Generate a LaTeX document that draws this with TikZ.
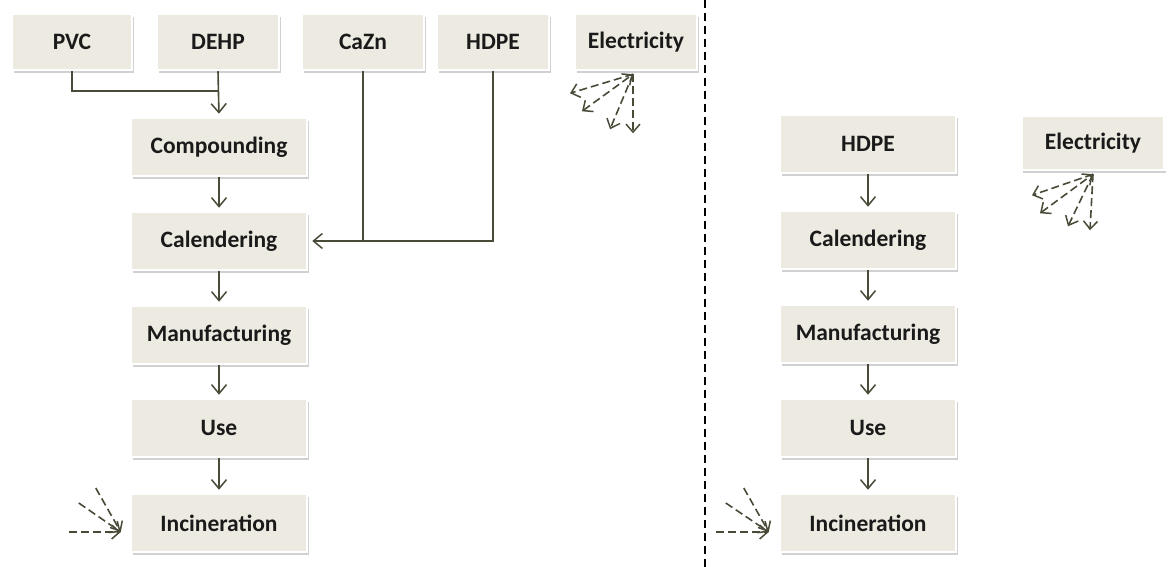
\documentclass[tikz,border=0pt]{standalone}
\usepackage{fontspec}
\setmainfont{Carlito}
\usetikzlibrary{arrows.meta,shadows,calc}
\definecolor{boxfill}{HTML}{ECEAE1}
\definecolor{arrcol}{HTML}{4A4A38}
\definecolor{txtcol}{HTML}{1A1A1A}
\tikzset{
  box/.style={fill=boxfill, draw=white, line width=2.5pt, inner sep=0pt,
    minimum width=176pt, minimum height=58pt, text=txtcol,
    font=\fontsize{23.5pt}{27pt}\selectfont\bfseries,
    drop shadow={shadow xshift=1.5pt, shadow yshift=-3pt, opacity=0.3, fill=black!60}},
  topbox/.style={box, minimum height=56pt},
  conn/.style={draw=arrcol, line width=1.6pt},
  arr/.style={conn, -{Straight Barb[length=9pt,width=15pt,line width=1.5pt]}, shorten >=3pt},
  darr/.style={draw=arrcol, line width=1.6pt, dash pattern=on 8pt off 4pt,
    -{Straight Barb[length=8pt,width=14pt,line width=1.5pt]}},
  dbarr/.style={darr, {Straight Barb[length=8pt,width=14pt,line width=1.5pt]}-{Straight Barb[length=8pt,width=14pt,line width=1.5pt]}},
  divider/.style={draw=black, line width=1.4pt, dash pattern=on 8pt off 5pt}
}
\begin{document}
\begin{tikzpicture}[x=1pt,y=-1pt]
\useasboundingbox (0,0) rectangle (1168,567);
% top row (left)
\node[topbox, minimum width=120pt] (pvc) at (72,42) {PVC};
\node[topbox, minimum width=122pt] (dehp) at (218,42) {DEHP};
\node[topbox, minimum width=122pt] (cazn) at (363,42) {CaZn};
\node[topbox, minimum width=112pt] (hdpe) at (493,42) {HDPE};
\node[topbox, minimum width=122pt] (elec) at (636,42) {Electricity};
% left column
\node[box] (comp) at (219,147) {Compounding};
\node[box] (cal) at (219,241) {Calendering};
\node[box] (man) at (219,335) {Manufacturing};
\node[box] (use) at (219,428) {Use};
\node[box] (inc) at (219,523) {Incineration};
% right column
\node[box] (hdpeR) at (868,144) {HDPE};
\node[box] (calR) at (868,240) {Calendering};
\node[box] (manR) at (868,334) {Manufacturing};
\node[box] (useR) at (868,428) {Use};
\node[box] (incR) at (868,523) {Incineration};
\node[box, minimum width=143pt, minimum height=54pt] (elecR) at (1093,143) {Electricity};
% divider
\coordinate (dtop) at (705,0);
\coordinate (dbot) at (705,567);
\draw[divider] (dtop) -- (dbot);
% left connectors
\coordinate (j1) at (dehp.south |- 0,91);
\draw[conn] (pvc.south) |- (j1);
\draw[arr] (dehp.south) -- (comp.north);
\draw[arr] (comp.south) -- (cal.north);
\draw[arr] (cal.south) -- (man.north);
\draw[arr] (man.south) -- (use.north);
\draw[arr] (use.south) -- (inc.north);
\coordinate (calin) at ([xshift=4pt]cal.east);
\draw[conn] (cazn.south) -- (cazn.south |- cal.east);
\draw[arr, shorten >=0pt] (hdpe.south) |- (calin);
% right connectors
\draw[arr] (hdpeR.south) -- (calR.north);
\draw[arr] (calR.south) -- (manR.north);
\draw[arr] (manR.south) -- (useR.north);
\draw[arr] (useR.south) -- (incR.north);
% electricity dashed arrows (left)
\coordinate (eo) at ([xshift=-3pt,yshift=-3pt]elec.south);
\coordinate (e1) at ($(eo)+(-63,19)$);
\coordinate (e2) at ($(eo)+(-51,37)$);
\coordinate (e3) at ($(eo)+(-23,55)$);
\coordinate (e4) at ($(eo)+(0,59)$);
\draw[darr] (eo) -- (e1);
\draw[dbarr] (e2) -- (eo);
\draw[darr] (eo) -- (e3);
\draw[darr] (eo) -- (e4);
% electricity dashed arrows (right)
\coordinate (fo) at ([yshift=-3pt]elecR.south);
\coordinate (f1) at ($(fo)+(-61,21)$);
\coordinate (f2) at ($(fo)+(-53,39)$);
\coordinate (f3) at ($(fo)+(-25,52)$);
\coordinate (f4) at ($(fo)+(-3,56)$);
\draw[darr] (fo) -- (f1);
\draw[dbarr] (f2) -- (fo);
\draw[darr] (fo) -- (f3);
\draw[darr] (fo) -- (f4);
% incineration dashed arrows (left)
\coordinate (it) at ([xshift=-9pt,yshift=-9pt]inc.west);
\coordinate (i1) at ($(it)+(-52,0)$);
\coordinate (i2) at ($(it)+(-42,-29)$);
\coordinate (i3) at ($(it)+(-25,-44)$);
\draw[darr] (i1) -- (it);
\draw[darr] (i2) -- (it);
\draw[darr] (i3) -- (it);
% incineration dashed arrows (right)
\coordinate (jt) at ([xshift=-10pt,yshift=-9pt]incR.west);
\coordinate (k1) at ($(jt)+(-53,0)$);
\coordinate (k2) at ($(jt)+(-43,-29)$);
\coordinate (k3) at ($(jt)+(-25,-44)$);
\draw[darr] (k1) -- (jt);
\draw[darr] (k2) -- (jt);
\draw[darr] (k3) -- (jt);
\end{tikzpicture}
\end{document}
